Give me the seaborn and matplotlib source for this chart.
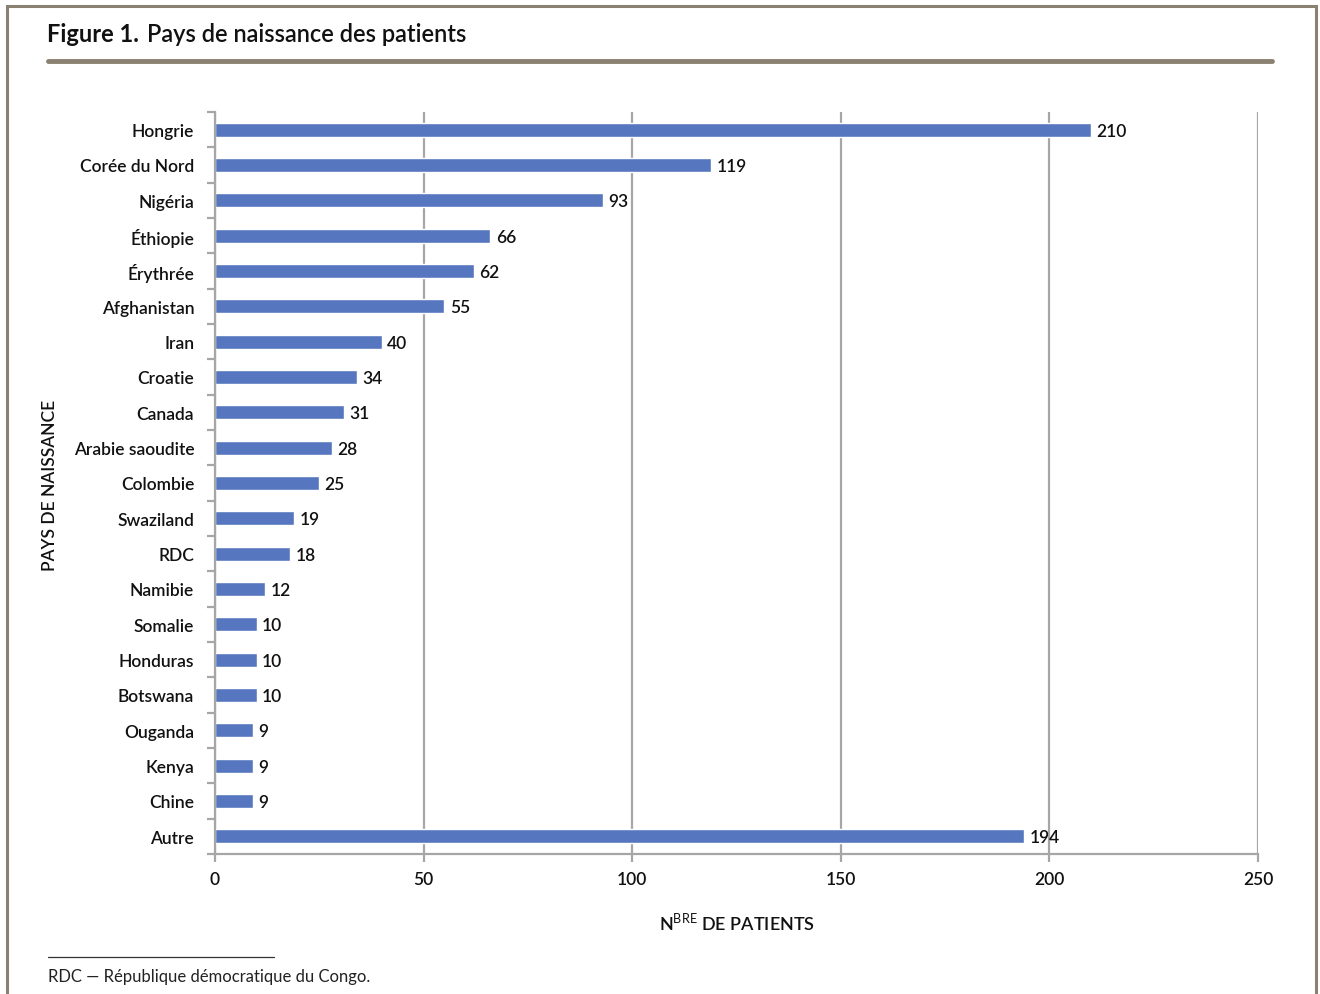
import numpy as np
import pandas as pd
import matplotlib.pyplot as plt
from matplotlib.lines import Line2D
from matplotlib.patches import Rectangle
from matplotlib.ticker import FixedLocator
import seaborn as sns

# data
countries = ["Hongrie", "Corée du Nord", "Nigéria", "Éthiopie", "Érythrée",
             "Afghanistan", "Iran", "Croatie", "Canada", "Arabie saoudite",
             "Colombie", "Swaziland", "RDC", "Namibie", "Somalie", "Honduras",
             "Botswana", "Ouganda", "Kenya", "Chine", "Autre"]
patients = [210, 119, 93, 66, 62, 55, 40, 34, 31, 28, 25, 19, 18, 12, 10, 10,
            10, 9, 9, 9, 194]
x_ticks = [0, 50, 100, 150, 200, 250]

df = pd.DataFrame({"pays": countries, "n": patients})

sns.set_theme(style="white")
plt.rcParams['font.family'] = ['Lato', 'DejaVu Sans']
plt.rcParams['mathtext.fontset'] = 'custom'
plt.rcParams['mathtext.rm'] = 'Lato'
plt.rcParams['mathtext.bf'] = 'Lato:bold'

BAR = "#5677bf"
FRAME = "#8a8172"
GRID = "#a6a6a6"
INK = "#111111"

W, H = 1320, 995
fig = plt.figure(figsize=(W / 100, H / 100), dpi=100)
ax = fig.add_axes([215 / W, 1 - 855 / H, (1258 - 215) / W, (855 - 113) / H])

sns.barplot(data=df, x="n", y="pays", order=countries, orient="h",
            color=BAR, saturation=1, width=0.4, ax=ax)

ax.set_xlim(0, 250)
ax.set_ylim(len(countries) - 0.5, -0.5)
ax.xaxis.set_major_locator(FixedLocator(x_ticks))
ax.grid(axis="x", color=GRID, linewidth=1.6)
ax.set_axisbelow(True)

for s in ["top", "right"]:
    ax.spines[s].set_visible(False)
for s in ["left", "bottom"]:
    ax.spines[s].set_color(GRID)
    ax.spines[s].set_linewidth(1.6)

ax.tick_params(axis="x", which="major", length=6, width=1.6, color=GRID,
               bottom=True, pad=6, labelsize=12.5)
ax.tick_params(axis="y", which="major", length=0, pad=15, labelsize=12.5)
ax.yaxis.set_minor_locator(FixedLocator(np.arange(-0.5, len(countries), 1)))
ax.tick_params(axis="y", which="minor", length=6, width=1.6, color=GRID, left=True)
for lab in ax.get_xticklabels() + ax.get_yticklabels():
    lab.set_fontweight("semibold")
    lab.set_color(INK)

for i, v in enumerate(patients):
    ax.text(v + 1.3, i + 0.03, str(v), va="center", ha="left", fontsize=12.5,
            fontweight="semibold", color=INK)

ax.set_xlabel("")
ax.set_ylabel("")
fig.text(737 / W, 1 - 922 / H, r"N$^{\mathrm{BRE}}$ DE PATIENTS", fontsize=13,
         fontweight="semibold", ha="center", va="center", color=INK)
fig.text(50 / W, 1 - 485 / H, "PAYS DE NAISSANCE", rotation=90, fontsize=12.5,
         fontweight="semibold", ha="center", va="center", color=INK)

# title, frame and footnote
fig.text(47 / W, 1 - 35 / H, "Figure 1.", fontsize=17, fontweight="bold",
         va="center", ha="left", color=INK)
fig.text(147 / W, 1 - 35 / H, "Pays de naissance des patients", fontsize=17,
         fontweight="semibold", va="center", ha="left", color=INK)
fig.add_artist(Line2D([48 / W, 1272 / W], [1 - 62 / H] * 2,
                      color=FRAME, linewidth=3.5, transform=fig.transFigure))
fig.add_artist(Rectangle((7 / W, -0.05), (1316 - 7) / W, 1.05 - 7 / H,
                         fill=False, edgecolor=FRAME, linewidth=2.2,
                         transform=fig.transFigure))
fig.add_artist(Line2D([48 / W, 274 / W], [1 - 958 / H] * 2,
                      color="#333333", linewidth=0.9, transform=fig.transFigure))
fig.text(48 / W, 1 - 977 / H, "RDC — République démocratique du Congo.",
         fontsize=12, va="center", ha="left", color="#222222")

fig.savefig("out.png", dpi=100)
